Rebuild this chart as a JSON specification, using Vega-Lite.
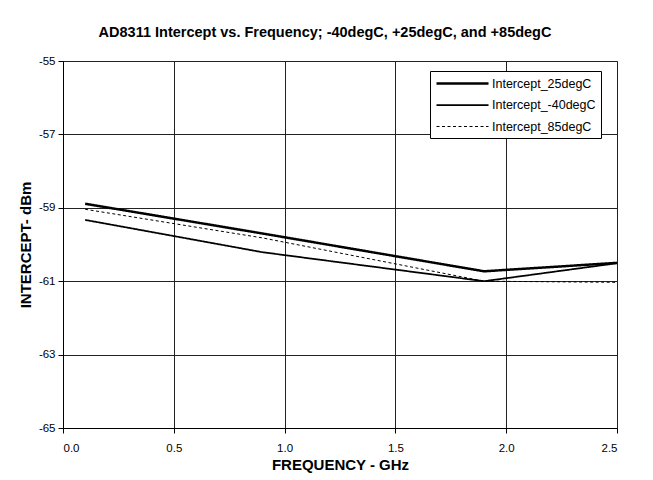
{
  "$schema": "https://vega.github.io/schema/vega-lite/v6.json",
  "width": 554,
  "height": 367,
  "autosize": "none",
  "padding": {"left": 63, "top": 61, "right": 36, "bottom": 52},
  "background": "white",
  "title": {
    "text": "AD8311 Intercept vs. Frequency; -40degC, +25degC, and +85degC",
    "font": "Liberation Sans",
    "fontSize": 14.5,
    "fontWeight": "bold",
    "color": "#000",
    "anchor": "middle",
    "dx": -15,
    "offset": 15
  },
  "config": {
    "font": "Liberation Sans",
    "view": {"stroke": "#777", "strokeWidth": 1},
    "axis": {
      "labelFont": "Liberation Sans",
      "labelFontSize": 11.5,
      "labelColor": "#000",
      "titleFont": "Liberation Sans",
      "titleFontSize": 15,
      "titleFontWeight": "bold",
      "titleColor": "#000",
      "domainColor": "#000",
      "tickColor": "#000",
      "gridColor": "#222",
      "gridWidth": 1,
      "tickSize": 5
    }
  },
  "data": {
    "values": [
      {"f": 0.1, "v": -58.89, "series": "Intercept_25degC"},
      {"f": 0.9, "v": -59.7, "series": "Intercept_25degC"},
      {"f": 1.9, "v": -60.73, "series": "Intercept_25degC"},
      {"f": 2.5, "v": -60.5, "series": "Intercept_25degC"},
      {"f": 0.1, "v": -59.33, "series": "Intercept_-40degC"},
      {"f": 0.9, "v": -60.21, "series": "Intercept_-40degC"},
      {"f": 1.9, "v": -61.0, "series": "Intercept_-40degC"},
      {"f": 2.5, "v": -60.51, "series": "Intercept_-40degC"},
      {"f": 0.1, "v": -59.04, "series": "Intercept_85degC"},
      {"f": 0.9, "v": -59.82, "series": "Intercept_85degC"},
      {"f": 1.9, "v": -61.0, "series": "Intercept_85degC"},
      {"f": 2.5, "v": -61.03, "series": "Intercept_85degC"}
    ]
  },
  "mark": {"type": "line", "color": "#000", "clip": true},
  "encoding": {
    "x": {
      "field": "f",
      "type": "quantitative",
      "scale": {"domain": [0, 2.5], "nice": false, "zero": false},
      "axis": {
        "values": [0, 0.5, 1, 1.5, 2, 2.5],
        "format": ".1f",
        "title": "FREQUENCY - GHz",
        "labelPadding": 9,
        "titlePadding": 4
      }
    },
    "y": {
      "field": "v",
      "type": "quantitative",
      "scale": {"domain": [-65, -55], "nice": false, "zero": false},
      "axis": {
        "values": [-65, -63, -61, -59, -57, -55],
        "labelExpr": "toString(datum.value)",
        "title": "INTERCEPT- dBm",
        "labelPadding": 3,
        "titlePadding": 5
      }
    },
    "detail": {"field": "series"},
    "strokeDash": {
      "field": "series",
      "type": "nominal",
      "scale": {
        "domain": ["Intercept_25degC", "Intercept_-40degC", "Intercept_85degC"],
        "range": [[1, 0], [1, 0], [3, 2.5]]
      },
      "legend": {"title": null}
    },
    "strokeWidth": {
      "field": "series",
      "type": "nominal",
      "scale": {
        "domain": ["Intercept_25degC", "Intercept_-40degC", "Intercept_85degC"],
        "range": [2.5, 1, 1.5]
      },
      "legend": {
        "title": null,
        "orient": "none",
        "legendX": 367,
        "legendY": 10,
        "symbolType": "M-1,0L7.67,0",
        "symbolSize": 144,
        "symbolStrokeColor": "#000",
        "labelFont": "Liberation Sans",
        "labelFontSize": 12.5,
        "labelColor": "#000",
        "labelOffset": 42,
        "strokeColor": "#000",
        "fillColor": "#fff",
        "padding": 5,
        "rowPadding": 8
      }
    }
  }
}
